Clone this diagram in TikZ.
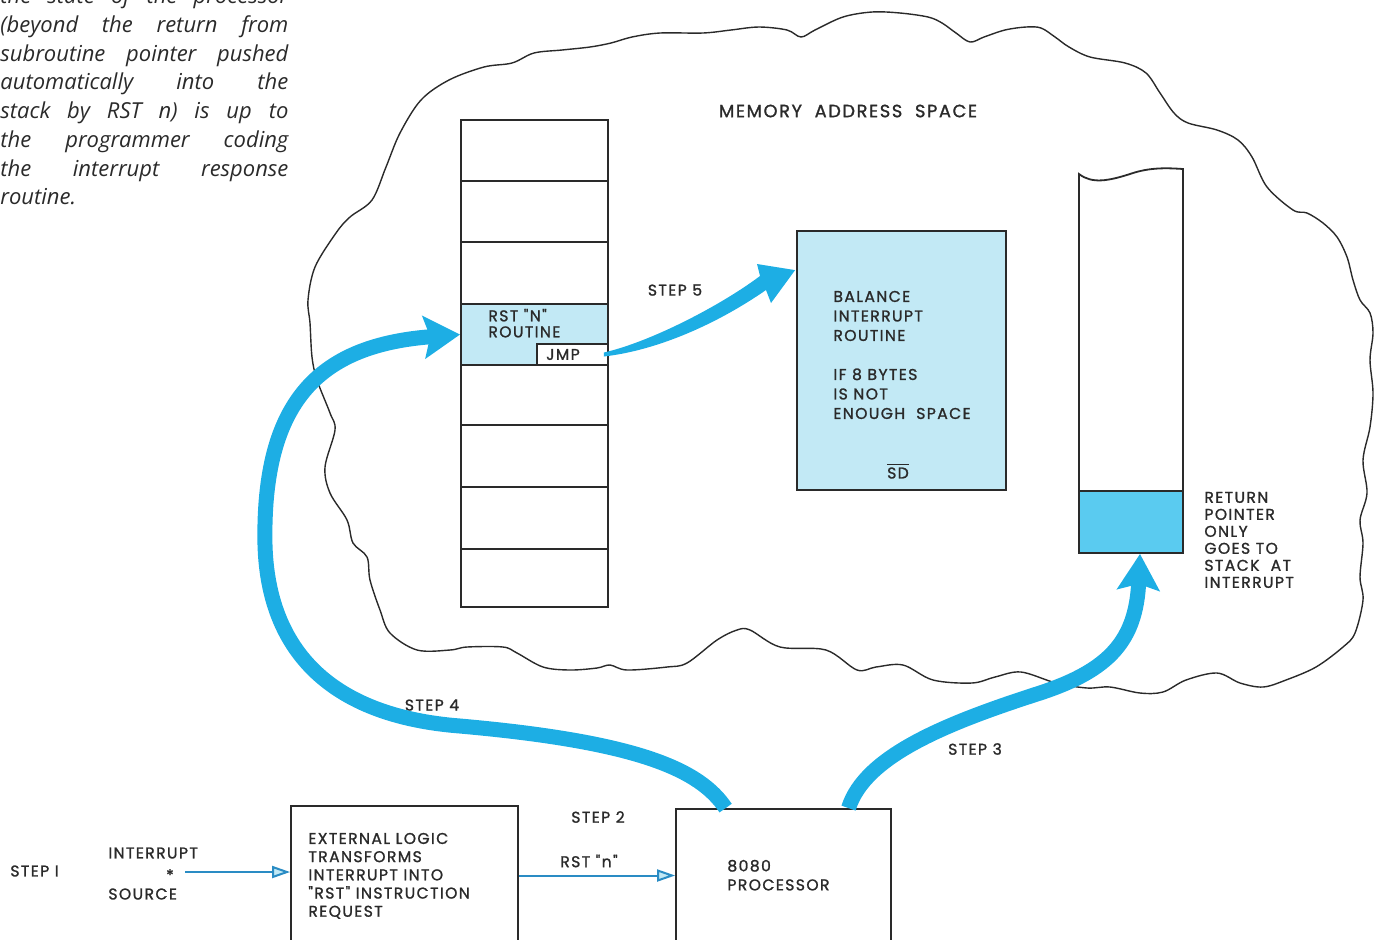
\documentclass[tikz,border=0pt]{standalone}
\usepackage{fontspec}
\setmainfont{Poppins}
\newfontfamily\lblfont[LetterSpace=9,FakeBold=1.3]{Poppins}
\newfontfamily\capfont{Open Sans}
\usetikzlibrary{arrows.meta,calc}
\definecolor{bigblue}{HTML}{1DAEE4}
\definecolor{lightfill}{HTML}{C2E9F5}
\definecolor{stackfill}{HTML}{5ACBF0}
\definecolor{thinblue}{HTML}{2A8CC4}
\definecolor{ink}{HTML}{2A2A2A}
\tikzset{
  box/.style={draw=ink, line width=0.9pt, inner sep=0pt},
  rowline/.style={draw=ink, line width=0.9pt},
  cloudline/.style={draw=ink, line width=0.7pt},
  lbl/.style={font=\lblfont\fontsize{7.8}{9.5}\selectfont, text=ink, inner sep=0pt},
  captxt/.style={font=\capfont\itshape\fontsize{11}{14}\selectfont, text=ink, inner sep=0pt, anchor=base west},
  bigarrow/.style={draw=bigblue, line width=7.5pt, -{Stealth[length=18pt,width=21pt,inset=3pt]}},
  thinarrow/.style={draw=thinblue, line width=1pt, -{Triangle[length=9pt,width=6pt,fill=lightfill]}}
}
\begin{document}
\begin{tikzpicture}[x=0.5pt,y=-0.5pt]
\useasboundingbox (0,0) rectangle (1380,939);
% caption
\node[captxt] (c1) at (0,3) {\hbox to 144pt{the\hfill state\hfill of\hfill the\hfill processor}};
\node[captxt] (c2) at (0,32) {\hbox to 144pt{(beyond\hfill the\hfill return\hfill from}};
\node[captxt] (c3) at (0,61) {\hbox to 144pt{subroutine\hfill pointer\hfill pushed}};
\node[captxt] (c4) at (0,89) {\hbox to 144pt{automatically\hfill into\hfill the}};
\node[captxt] (c5) at (0,118) {\hbox to 144pt{stack\hfill by\hfill RST\hfill n)\hfill is\hfill up\hfill to}};
\node[captxt] (c6) at (0,147) {\hbox to 144pt{the\hfill programmer\hfill coding}};
\node[captxt] (c7) at (0,176) {\hbox to 144pt{the\hfill interrupt\hfill response}};
\node[captxt] (c8) at (0,204) {routine.};
% cloud
\draw[cloudline] plot[smooth cycle, tension=0.55] coordinates {
(310,323) (308,300) (315,267) (336,233) (350,217) (372,200) (386,167) (400,133) (421,100)
(449,80) (484,67) (512,63) (534,53) (562,50) (590,47) (611,43) (632,37) (660,33) (703,33)
(731,30) (759,27) (787,30) (801,37) (815,30) (843,17) (872,12) (900,13) (928,17) (942,23)
(956,33) (970,42) (984,37) (1005,30) (1026,27) (1041,28) (1055,37) (1069,47) (1090,57)
(1125,63) (1146,73) (1160,93) (1174,113) (1188,123) (1217,130) (1238,140) (1252,157)
(1267,187) (1293,210) (1307,213) (1323,223) (1337,237) (1347,257) (1353,280) (1360,300)
(1370,313) (1373,333) (1370,360) (1373,393) (1370,427) (1363,460) (1367,493) (1360,520)
(1363,543) (1360,577) (1363,600) (1355,633) (1343,647) (1316,667) (1286,680) (1263,687)
(1240,683) (1217,673) (1186,680) (1163,692) (1140,693) (1110,687) (1087,688) (1056,683)
(1021,672) (995,677) (972,683) (933,680) (903,665) (876,667) (857,670) (826,650) (780,647)
(750,630) (737,630) (717,640) (687,663) (667,667) (627,670) (610,665) (597,668) (570,670)
(543,667) (517,653) (503,647) (467,647) (450,650) (417,650) (390,633) (380,610) (370,580)
(367,557) (353,543) (347,520) (330,493) (325,467) (335,430) (330,413) (317,380) (312,357)};
\node[lbl, font=\lblfont\fontsize{8.9}{10}\selectfont] (title) at (848,111) {MEMORY\ \ ADDRESS\ \ SPACE};
% memory column
\node[box, minimum width=73.5pt, minimum height=243.5pt] (mem) at (534.5,363.5) {};
\node[box, fill=lightfill, minimum width=73.5pt, minimum height=30.5pt] (rst) at (534.5,334.5) {};
\foreach \yy in {181,242,425,487,549} \draw[rowline] (461,\yy) -- (608,\yy);
\node[box, fill=white, minimum width=35.5pt, minimum height=10.5pt] (jmp) at (572.5,354.5) {};
\node[lbl] (jmptxt) at (563,354.5) {JMP};
\node[lbl, anchor=north west, align=left, font=\lblfont\fontsize{7.8}{8}\selectfont] (rsttxt) at (488,308.5) {RST "N"\\ROUTINE};
% balance box
\node[box, fill=lightfill, minimum width=104.5pt, minimum height=129.5pt] (bal) at (901.5,360.5) {};
\node[lbl, anchor=north west, align=left, font=\lblfont\fontsize{7.8}{9.75}\selectfont] (baltxt) at (833,290.5)
  {BALANCE\\INTERRUPT\\ROUTINE\\[9.75pt]IF 8 BYTES\\IS NOT\\ENOUGH\ \ SPACE};
\node[lbl] (sd) at (898,471) {$\overline{\hbox{SD}}$};
% stack
\draw[box] (1079,491) -- (1079,174) .. controls (1092,184) and (1108,181) .. (1130,174) .. controls (1150,167) and (1168,168) .. (1183,169) -- (1183,491);
\node[box, fill=stackfill, minimum width=52pt, minimum height=31pt] (blk) at (1131,522) {};
\node[lbl, anchor=north west, align=left, font=\lblfont\fontsize{7.8}{8.5}\selectfont] (stxt) at (1204,491.5)
  {RETURN\\POINTER\\ONLY\\GOES TO\\STACK\ \ AT\\INTERRUPT};
% bottom boxes
\node[box, minimum width=113.5pt, minimum height=69.5pt] (ext) at (404.5,875.5) {};
\node[box, minimum width=107.5pt, minimum height=68pt] (proc) at (783.5,877) {};
\node[lbl, anchor=north west, align=left, font=\lblfont\fontsize{7.8}{9.1}\selectfont] (exttxt) at (308,832.5)
  {EXTERNAL LOGIC\\TRANSFORMS\\INTERRUPT INTO\\"RST" INSTRUCTION\\REQUEST};
\node[lbl, anchor=north west, align=left, font=\lblfont\fontsize{7.8}{9.5}\selectfont] (proctxt) at (727,859.5)
  {8080\\PROCESSOR};
\node[lbl, anchor=west] (s1) at (10,871) {STEP I};
\node[lbl, anchor=west] (intr) at (108,853) {INTERRUPT};
\node[lbl, anchor=west] (srcl) at (108,894) {SOURCE};
\node[lbl] (star) at (170,875) {*};
\coordinate (src) at (185,872);
\draw[thinarrow] (src) -- (src -| ext.west);
\draw[thinarrow] (ext.east) -- (ext.east -| proc.west);
\node[lbl] (s2) at (598,817) {STEP 2};
\node[lbl] (rstn) at (589,861) {RST "n"};
\node[lbl] (s3) at (975,749) {STEP 3};
\node[lbl] (s4) at (432,705) {STEP 4};
\node[lbl] (s5) at (675,290) {STEP 5};
% big arrows
\draw[bigarrow] ($(proc.north west)!0.233!(proc.north east)$) .. controls (700,770) and (640,742) .. (460,726)
  .. controls (330,716) and (268,650) .. (265,545) .. controls (262,400) and (320,345) .. (rst.west);
\draw[bigarrow] ($(proc.north west)!0.8!(proc.north east)$) .. controls (865,755) and (950,722) .. (1040,693)
  .. controls (1110,670) and (1136,640) .. ($(blk.south)+(9,0)$);
\fill[bigblue] ($(jmp.east)+(-5,-2)$) .. controls (650,342) and (720,306) .. (760,276) -- (757,264)
  -- ($(bal.north west)+(-1,40)$) -- (771,303) -- (766,290) .. controls (720,322) and (660,350) .. ($(jmp.east)+(-5,2)$) -- cycle;
\end{tikzpicture}
\end{document}
